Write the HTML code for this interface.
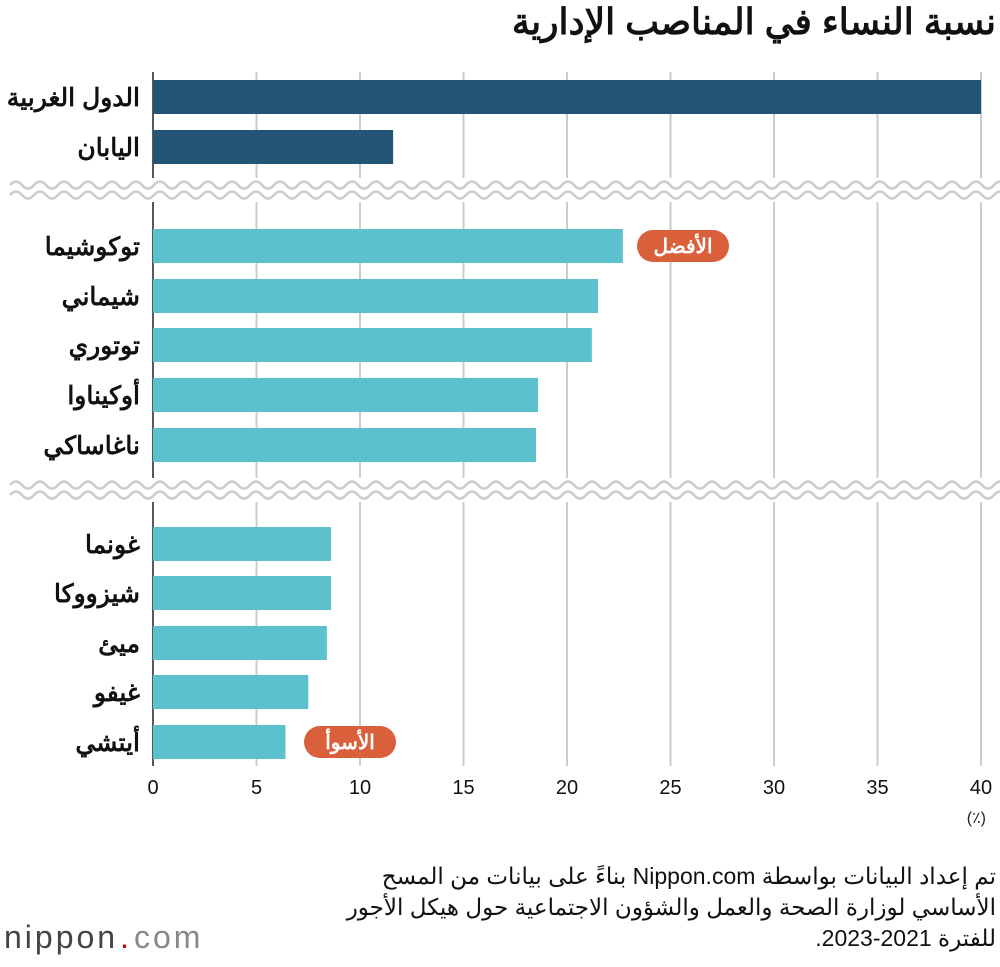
<!DOCTYPE html>
<html lang="ar"><head><meta charset="utf-8">
<style>
body{margin:0;background:#fff;width:1000px;height:962px;overflow:hidden;font-family:"Liberation Sans","Noto Sans CJK SC",sans-serif;}
svg text{font-family:"Liberation Sans","Noto Sans CJK SC",sans-serif;}
</style></head><body>
<svg id="chart" width="1000" height="962">
<text x="996" y="34" text-anchor="end" font-size="36" font-weight="bold" fill="#111">نسبة النساء في المناصب الإدارية</text>
<g id="grid"></g><g id="bars"></g><g id="labels"></g><g id="ticks"></g>
<text x="986" y="823" text-anchor="end" font-size="16" fill="#222">(٪)</text>
<text x="996" y="884" direction="rtl" text-anchor="start" font-size="23" fill="#111">تم إعداد البيانات بواسطة Nippon.com بناءً على بيانات من المسح</text>
<text x="996" y="915" direction="rtl" text-anchor="start" font-size="23" fill="#111">الأساسي لوزارة الصحة والعمل والشؤون الاجتماعية حول هيكل الأجور</text>
<text x="996" y="946" direction="rtl" text-anchor="start" font-size="23" fill="#111">للفترة 2021-2023.</text>
<g>
<text x="4" y="948" font-size="32" fill="#444" letter-spacing="3">nippon<tspan fill="#c00" dx="2">.</tspan><tspan fill="#888" dx="2">com</tspan></text>
</g>
</svg>
<script>
const categories=["الدول الغربية","اليابان","توكوشيما","شيماني","توتوري","أوكيناوا","ناغاساكي","غونما","شيزووكا","ميئ","غيفو","أيتشي"];
const values=[40,11.6,22.7,21.5,21.2,18.6,18.5,8.6,8.6,8.4,7.5,6.4];
const tickValues=[0,5,10,15,20,25,30,35,40];
const rowCenters=[97,147,246,296,345,395,445,544,593,643,692,742];
const NS="http://www.w3.org/2000/svg";
const x0=153,x1=981,xmax=40;
const xs=v=>x0+(v/xmax)*(x1-x0);
function mk(t,a,p){const e=document.createElementNS(NS,t);for(const k in a)e.setAttribute(k,a[k]);p.appendChild(e);return e;}
const grid=document.getElementById('grid'),bars=document.getElementById('bars'),labels=document.getElementById('labels'),ticks=document.getElementById('ticks');
tickValues.forEach((t,i)=>{
 const l=mk('line',{x1:xs(t),x2:xs(t),y1:72,y2:766,stroke:i==0?'#222':'#ccc','stroke-width':i==0?1.5:2},grid);
 
 
 const tx=mk('text',{x:xs(t),y:794,'text-anchor':'middle','font-size':20,fill:'#111'},ticks);
 tx.textContent=t;
 
 
});
categories.forEach((c,i)=>{
 const y=rowCenters[i];
 const r=mk('rect',{x:x0,y:y-17,width:xs(values[i])-x0,height:34,fill:i<2?'#235676':'#5bc1cc'},bars);
 
 
 const t=mk('text',{x:140,y:y+9,'text-anchor':'end','font-size':25,'font-weight':'bold',fill:'#111'},labels);
 t.textContent=c;
 
 
});
[190,490].forEach((y,k)=>{
 mk('rect',{x:0,y:y-12,width:1000,height:24,fill:'#fff'},grid);
 let d='M10 '+y;
 for(let x=10;x<995;x+=24){d+=' Q'+(x+6)+' '+(y-7)+' '+(x+12)+' '+y+' T'+(x+24)+' '+y;}
 const p1=mk('path',{d:d,fill:'none',stroke:'#ccc','stroke-width':2.5,transform:'translate(0,-5)'},grid);
 
 
 const p2=mk('path',{d:d,fill:'none',stroke:'#ccc','stroke-width':2.5,transform:'translate(0,5)'},grid);
 
 
});
function badge(txt,cx,cy,name){
 const g=mk('g',{},bars);
 
 
 mk('rect',{x:cx-46,y:cy-16,width:92,height:32,rx:16,fill:'#d9603b'},g);
 const t=mk('text',{x:cx,y:cy+7,'text-anchor':'middle','font-size':20,'font-weight':'bold',fill:'#fff'},g);
 t.textContent=txt;
}
badge('الأفضل',683,246,'best-badge');
badge('الأسوأ',350,742,'worst-badge');
</script>
</body></html>
